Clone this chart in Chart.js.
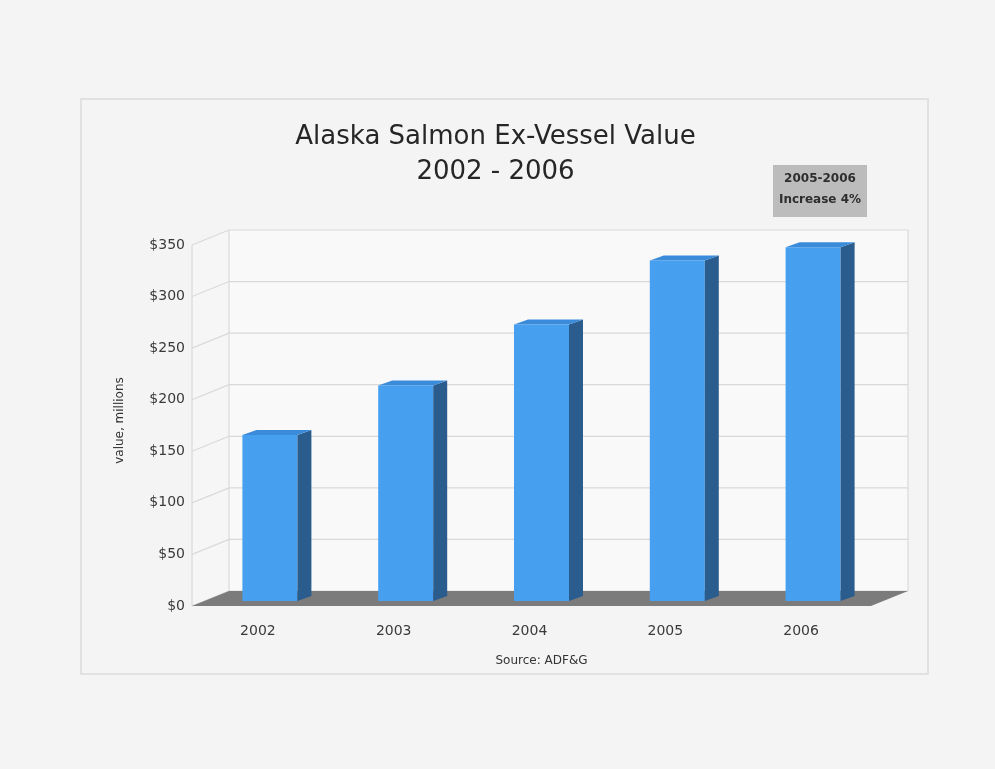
<!DOCTYPE html>
<html>
<head>
<meta charset="utf-8">
<script src="https://cdn.jsdelivr.net/npm/chart.js@4.4.1/dist/chart.umd.min.js"></script>
<style>
html, body { margin: 0; padding: 0; background: #f4f4f4; }
#wrap { width: 995px; height: 769px; }
</style>
</head>
<body>
<div id="wrap"><canvas id="salmonChart" width="995" height="769"></canvas></div>
<script>
// Data ($ millions)
const years = ['2002', '2003', '2004', '2005', '2006'];
const values = [161, 209, 268, 330, 343];
const yMax = 350;
const yStep = 50;
const titleLines = ['Alaska Salmon Ex-Vessel Value', '2002 - 2006'];
const noteLines = ['2005-2006', 'Increase 4%'];

// 3D look: front plane, back wall offsets and bar depth
const front = { dx: -10, dy: 5 };
const back = { dx: 27, dy: -10 };
const barDepth = { dx: 14, dy: -5 };

const pseudo3d = {
    id: 'pseudo3d',
    beforeDraw(chart) {
        const ctx = chart.ctx;
        ctx.save();
        ctx.fillStyle = '#f4f4f4';
        ctx.fillRect(0, 0, chart.width, chart.height);
        ctx.strokeStyle = '#e1e1e1';
        ctx.lineWidth = 2;
        ctx.strokeRect(81, 99, 847, 575);
        ctx.restore();
    },
    beforeDatasetsDraw(chart) {
        const ctx = chart.ctx;
        const y = chart.scales.y;
        const L = chart.chartArea.left, R = chart.chartArea.right;
        const top = y.getPixelForValue(yMax), bot = y.getPixelForValue(0);
        ctx.save();

        // back wall
        ctx.fillStyle = '#f9f9f9';
        ctx.fillRect(L + back.dx, top + back.dy, R - L, bot - top);
        // left wall
        ctx.fillStyle = '#f6f6f6';
        ctx.beginPath();
        ctx.moveTo(L + front.dx, top + front.dy);
        ctx.lineTo(L + back.dx, top + back.dy);
        ctx.lineTo(L + back.dx, bot + back.dy);
        ctx.lineTo(L + front.dx, bot + front.dy);
        ctx.closePath();
        ctx.fill();

        // grid lines
        ctx.strokeStyle = '#d9d9d9';
        ctx.lineWidth = 1.2;
        y.ticks.forEach(t => {
            const py = y.getPixelForValue(t.value);
            ctx.beginPath();
            ctx.moveTo(L + front.dx, py + front.dy);
            ctx.lineTo(L + back.dx, py + back.dy);
            ctx.lineTo(R + back.dx, py + back.dy);
            ctx.stroke();
        });
        ctx.beginPath();
        ctx.moveTo(L + front.dx, top + front.dy);
        ctx.lineTo(L + front.dx, bot + front.dy);
        ctx.moveTo(L + back.dx, top + back.dy);
        ctx.lineTo(L + back.dx, bot + back.dy);
        ctx.moveTo(R + back.dx, top + back.dy);
        ctx.lineTo(R + back.dx, bot + back.dy);
        ctx.stroke();

        // floor
        ctx.fillStyle = '#7b7b7b';
        ctx.beginPath();
        ctx.moveTo(L + front.dx, bot + front.dy);
        ctx.lineTo(R + front.dx, bot + front.dy);
        ctx.lineTo(R + back.dx, bot + back.dy);
        ctx.lineTo(L + back.dx, bot + back.dy);
        ctx.closePath();
        ctx.fill();
        ctx.restore();
    },
    afterDatasetsDraw(chart) {
        const ctx = chart.ctx;
        const meta = chart.getDatasetMeta(0);
        ctx.save();
        meta.data.forEach(bar => {
            const l = bar.x - bar.width / 2, r = bar.x + bar.width / 2;
            const t = bar.y, b = bar.base;
            // side
            ctx.fillStyle = '#2b5c8e';
            ctx.beginPath();
            ctx.moveTo(r, t);
            ctx.lineTo(r + barDepth.dx, t + barDepth.dy);
            ctx.lineTo(r + barDepth.dx, b + barDepth.dy);
            ctx.lineTo(r, b);
            ctx.closePath();
            ctx.fill();
            // top
            ctx.fillStyle = '#3a8cdb';
            ctx.beginPath();
            ctx.moveTo(l, t);
            ctx.lineTo(l + barDepth.dx, t + barDepth.dy);
            ctx.lineTo(r + barDepth.dx, t + barDepth.dy);
            ctx.lineTo(r, t);
            ctx.closePath();
            ctx.fill();
        });
        ctx.restore();
    },
    afterDraw(chart) {
        // note box top right
        const ctx = chart.ctx;
        ctx.save();
        ctx.fillStyle = '#bcbcbc';
        ctx.fillRect(773, 165, 94, 52);
        ctx.fillStyle = '#2e2e2e';
        ctx.font = 'bold 12px "DejaVu Sans"';
        ctx.textAlign = 'center';
        ctx.textBaseline = 'middle';
        ctx.fillText(noteLines[0], 820, 179);
        ctx.fillText(noteLines[1], 820, 200);
        ctx.restore();
    }
};

const ctx = document.getElementById('salmonChart').getContext('2d');
const salmonChart = new Chart(ctx, {
    type: 'bar',
    data: {
        labels: years,
        datasets: [{
            data: values,
            backgroundColor: '#46a0ef',
            borderWidth: 0,
            categoryPercentage: 1,
            barPercentage: 0.405
        }]
    },
    options: {
        responsive: false,
        animation: false,
        devicePixelRatio: 1,
        layout: { padding: { left: 110, right: 114, top: 0, bottom: 88 } },
        plugins: {
            legend: { display: false },
            tooltip: { enabled: false },
            title: {
                display: true,
                text: titleLines,
                color: '#262626',
                font: { family: 'DejaVu Sans', size: 26, weight: 'normal', lineHeight: 1.346 },
                padding: { top: 119.5, bottom: 50.5 }
            }
        },
        scales: {
            x: {
                grid: { display: false, drawTicks: false },
                border: { display: false },
                ticks: {
                    color: '#3a3a3a',
                    font: { family: 'DejaVu Sans', size: 14 },
                    padding: 22,
                    labelOffset: -12,
                    maxRotation: 0
                },
                title: {
                    display: true,
                    text: 'Source: ADF&G',
                    color: '#333',
                    font: { family: 'DejaVu Sans', size: 12 },
                    padding: { top: 0, bottom: 12.8 }
                },
                afterFit: s => { s.height = 80; }
            },
            y: {
                min: 0,
                max: yMax,
                grid: { display: false, drawTicks: false },
                border: { display: false },
                ticks: {
                    stepSize: yStep,
                    color: '#3a3a3a',
                    font: { family: 'DejaVu Sans', size: 14 },
                    padding: 17,
                    labelOffset: 5,
                    callback: v => '$' + v
                },
                title: {
                    display: true,
                    text: 'value, millions',
                    color: '#333',
                    font: { family: 'DejaVu Sans', size: 12 },
                    padding: { top: 3, bottom: 0 }
                },
                afterFit: s => { s.width = 92; }
            }
        }
    },
    plugins: [pseudo3d]
});
</script>
</body>
</html>
